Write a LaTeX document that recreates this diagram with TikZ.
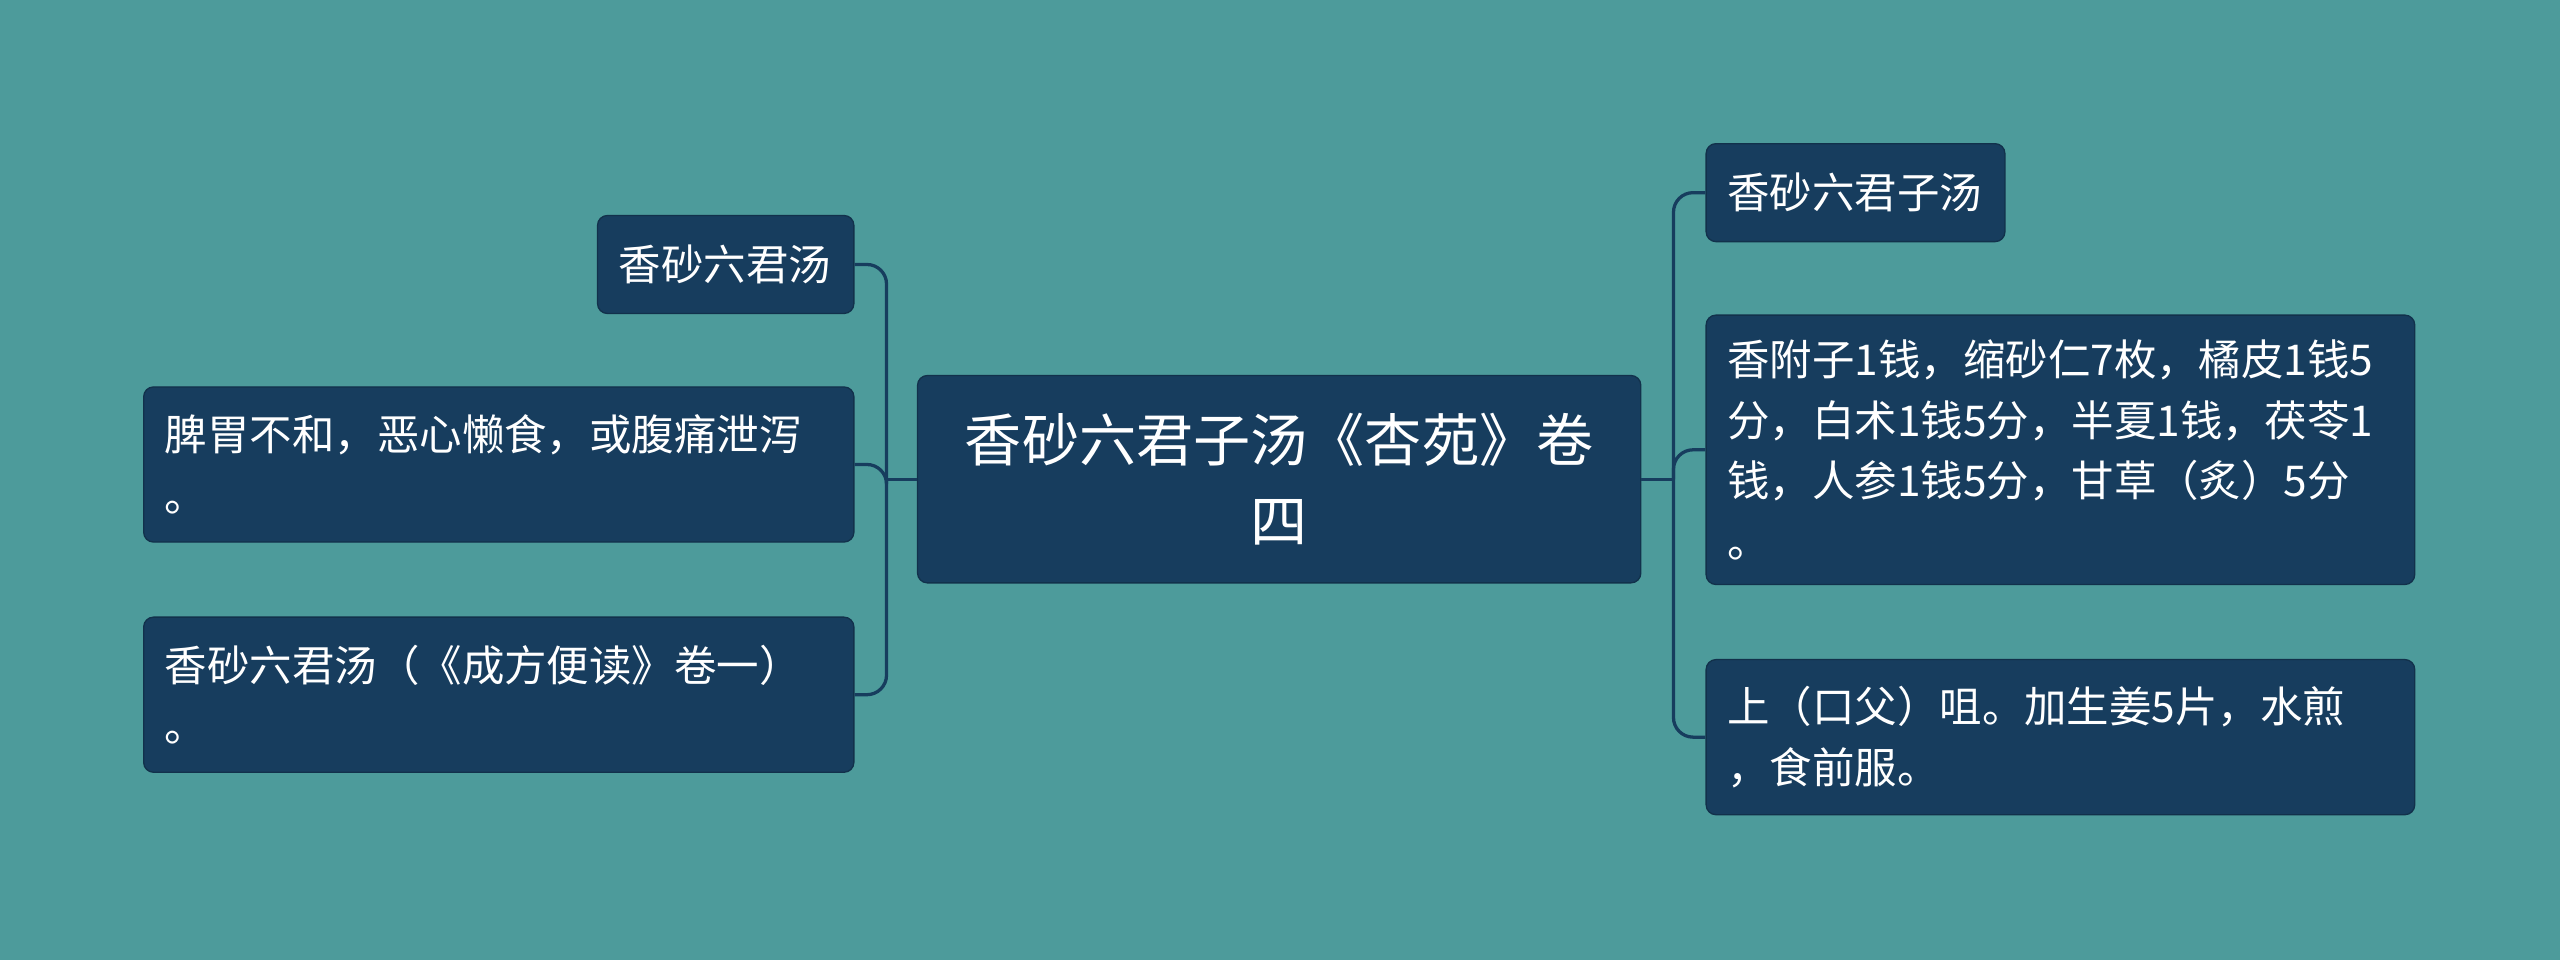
\documentclass[tikz,border=0pt]{standalone}
\usepackage{fontspec}
\setmainfont{Noto Sans CJK SC}
\definecolor{bg}{HTML}{4D9B9B}
\definecolor{nb}{HTML}{173D5E}
\begin{document}
\begin{tikzpicture}[x=0.5pt,y=-0.5pt,
 box/.style={fill=nb,draw=nb!80!black,rounded corners=3pt,text=white,align=left,inner xsep=6.5pt,inner ysep=0pt,font=\fontsize{13}{18.5}\selectfont},
 conn/.style={draw=nb,line width=1pt,rounded corners=6pt}]
\fill[bg] (0,0) rectangle (1568,588);
\node[box,minimum width=221.5pt,minimum height=63.5pt,text width=208.5pt,align=center,font=\fontsize{17.5}{25}\selectfont] (C) at (783.5,293.5) {香砂六君子汤《杏苑》卷\\四};
\node[box,minimum width=78.5pt,minimum height=30pt,text width=65.5pt] (L1) at (444.5,162) {香砂六君汤};
\node[box,minimum width=217.5pt,minimum height=47.5pt,text width=204.5pt] (L2) at (305.5,284.5) {脾胃不和，恶心懒食，或腹痛泄泻\\。};
\node[box,minimum width=217.5pt,minimum height=47.5pt,text width=204.5pt] (L3) at (305.5,425.5) {香砂六君汤（《成方便读》卷一）\\。};
\node[box,minimum width=91.5pt,minimum height=30pt,text width=78.5pt] (R1) at (1136.5,118) {香砂六君子汤};
\node[box,minimum width=217pt,minimum height=82.5pt,text width=204pt] (R2) at (1262,275.5) {香附子1钱，缩砂仁7枚，橘皮1钱5\\分，白术1钱5分，半夏1钱，茯苓1\\钱，人参1钱5分，甘草（炙）5分\\。};
\node[box,minimum width=217pt,minimum height=47.5pt,text width=204pt] (R3) at (1262,451.5) {上（口父）咀。加生姜5片，水煎\\，食前服。};
\coordinate (jL) at (543,293.5);
\coordinate (jR) at (1025,293.5);
\draw[conn] (C.west) -- (jL);
\draw[conn] (jL) |- (L1.east);
\draw[conn] (jL) |- (L2.east);
\draw[conn] (jL) |- (L3.east);
\draw[conn] (C.east) -- (jR);
\draw[conn] (jR) |- (R1.west);
\draw[conn] (jR) |- (R2.west);
\draw[conn] (jR) |- (R3.west);
\end{tikzpicture}
\end{document}
